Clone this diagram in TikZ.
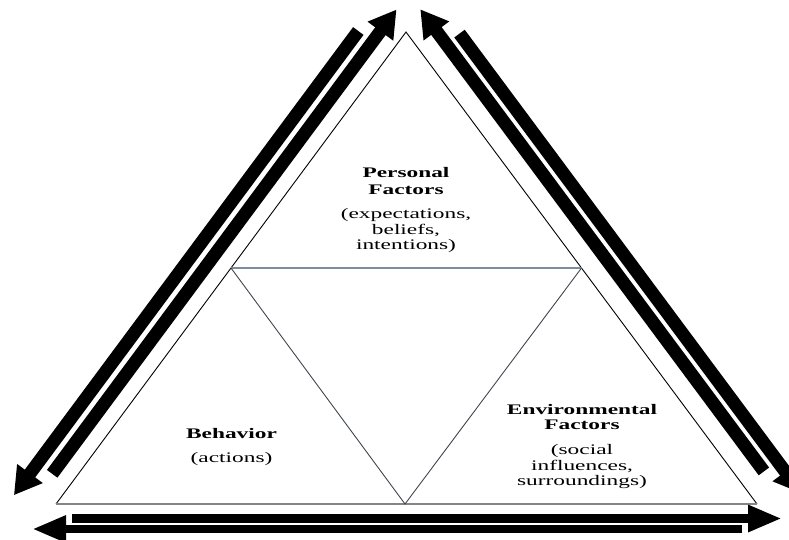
\documentclass[tikz,border=0pt]{standalone}
\usepackage{fontspec}
\newfontfamily\wf[FakeStretch=1.6]{Liberation Serif}
\usetikzlibrary{arrows.meta}
\definecolor{midgray}{HTML}{7F8C99}
\definecolor{basegray}{HTML}{858585}
\definecolor{vgray}{HTML}{40464E}
\tikzset{
  lbl/.style={anchor=base, inner sep=0pt, font=\wf\fontsize{14.6}{16}\selectfont},
  hd/.style={anchor=base, inner sep=0pt, font=\wf\bfseries\fontsize{14.6}{16}\selectfont},
  diagarrow/.style={line width=13pt, -{Triangle[length=27pt,width=30pt]}},
  horizarrow/.style={line width=8.5pt, -{Triangle[length=34pt,width=25pt]}},
  outerside/.style={line width=0.9pt, black},
}
\begin{document}
\begin{tikzpicture}[x=1pt,y=-1pt]
\useasboundingbox (0,0) rectangle (789,539);
\clip (0,0) rectangle (789,539);
% vertices
\coordinate (A) at (406,32);
\coordinate (BL) at (56,504);
\coordinate (BR) at (757,504);
\coordinate (ML) at (231,268);
\coordinate (MR) at (581.5,268);
\coordinate (BM) at (405,504);
% triangle
\draw[outerside] (BL) -- (A) -- (BR);
\draw[basegray, line width=1.3pt] (BL) -- (BR);
\draw[midgray, line width=1.6pt] (ML) -- (MR);
\draw[vgray, line width=0.9pt] (ML) -- (BM) -- (MR);
% arrow end points
\coordinate (l1s) at (52.2,473.8);
\coordinate (l1e) at (396.5,9.5);
\coordinate (l2s) at (358.3,31.0);
\coordinate (l2e) at (13.9,495.2);
\coordinate (r1s) at (763.9,471.4);
\coordinate (r1e) at (420.3,9.3);
\coordinate (r2s) at (459.5,33.6);
\coordinate (r2e) at (801.4,493.4);
\coordinate (b1s) at (72,518.5);
\coordinate (b1e) at (782,518.5);
\coordinate (b2s) at (742,529);
\coordinate (b2e) at (32,529);
% arrows
\draw[diagarrow] (l1s) -- (l1e);
\draw[diagarrow] (l2s) -- (l2e);
\draw[diagarrow] (r1s) -- (r1e);
\draw[diagarrow] (r2s) -- (r2e);
\draw[horizarrow] (b1s) -- (b1e);
\draw[horizarrow] (b2s) -- (b2e);
% labels
\node[hd] (personal1) at (406,177.7) {Personal};
\node[hd] (personal2) at (406,194) {Factors};
\node[lbl] (personal3) at (406,218) {(expectations,};
\node[lbl] (personal4) at (406,234) {beliefs,};
\node[lbl] (personal5) at (406,249.5) {intentions)};
\node[hd] (behav1) at (231.5,438.3) {Behavior};
\node[lbl] (behav2) at (231.5,462.5) {(actions)};
\node[hd] (env1) at (582,414) {Environmental};
\node[hd] (env2) at (582,429.5) {Factors};
\node[lbl] (env3) at (582,454.5) {(social};
\node[lbl] (env4) at (582,470) {influences,};
\node[lbl] (env5) at (582,485.5) {surroundings)};
\end{tikzpicture}
\end{document}
